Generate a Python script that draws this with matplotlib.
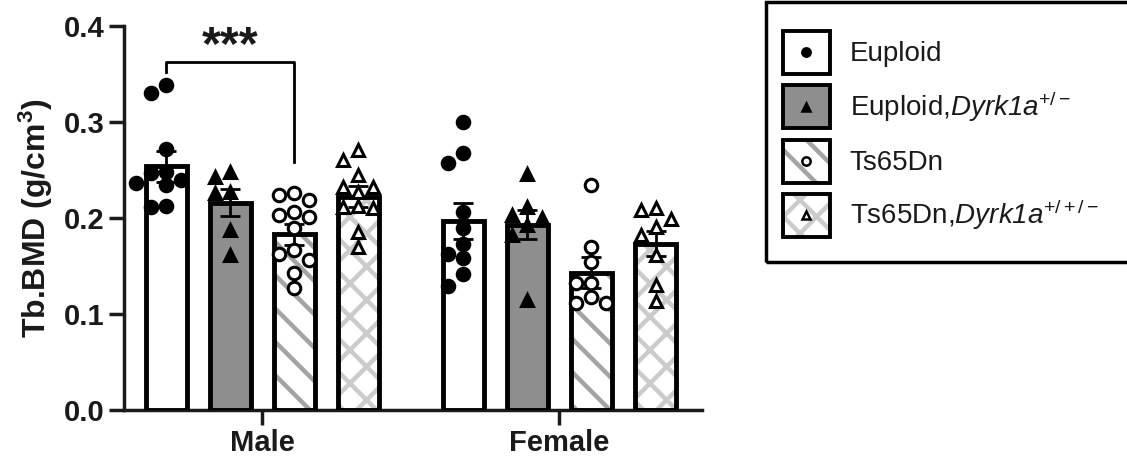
import matplotlib
matplotlib.use('Agg')
import matplotlib.pyplot as plt
import numpy as np
from matplotlib.patches import Rectangle
from matplotlib.lines import Line2D

# ---------------- data ----------------
groups = ['Male', 'Female']
genotypes = ['Euploid', 'Euploid,Dyrk1a+/-', 'Ts65Dn', 'Ts65Dn,Dyrk1a+/+/-']
legend_labels = ['Euploid',
                 'Euploid,' + r'$\mathsf{Dyrk1a}^{+/-}$',
                 'Ts65Dn',
                 'Ts65Dn,' + r'$\mathsf{Dyrk1a}^{+/+/-}$']

means_male = [0.254, 0.216, 0.183, 0.222]
sem_male = [0.016, 0.014, 0.011, 0.011]
means_female = [0.197, 0.193, 0.143, 0.173]
sem_female = [0.019, 0.015, 0.016, 0.013]

pts_male_euploid = [0.339, 0.330, 0.272, 0.248, 0.247, 0.240, 0.236, 0.234, 0.212, 0.211]
pts_male_dyrk = [0.243, 0.248, 0.226, 0.227, 0.1875, 0.161]
pts_male_ts = [0.224, 0.219, 0.226, 0.203, 0.201, 0.206, 0.190, 0.167, 0.163, 0.156, 0.143, 0.127]
pts_male_tsdyrk = [0.271, 0.260, 0.245, 0.232, 0.232, 0.227, 0.211, 0.212, 0.210, 0.185, 0.170]

pts_female_euploid = [0.300, 0.257, 0.268, 0.206, 0.190, 0.173, 0.158, 0.1625, 0.142, 0.129]
pts_female_dyrk = [0.246, 0.211, 0.200, 0.203, 0.193, 0.182, 0.115]
pts_female_ts = [0.234, 0.170, 0.154, 0.132, 0.132, 0.118, 0.111, 0.111]
pts_female_tsdyrk = [0.210, 0.208, 0.199, 0.191, 0.182, 0.161, 0.130, 0.1135]

y_ticks = [0.0, 0.1, 0.2, 0.3, 0.4]
y_ticklabels = ['0.0', '0.1', '0.2', '0.3', '0.4']

means = [means_male, means_female]
sems = [sem_male, sem_female]
points = [[pts_male_euploid, pts_male_dyrk, pts_male_ts, pts_male_tsdyrk],
          [pts_female_euploid, pts_female_dyrk, pts_female_ts, pts_female_tsdyrk]]

# ---------------- style ----------------
plt.rcParams['font.family'] = ['Liberation Sans', 'DejaVu Sans']
plt.rcParams['mathtext.fontset'] = 'custom'
plt.rcParams['mathtext.rm'] = 'Liberation Sans'
plt.rcParams['mathtext.it'] = 'Liberation Sans:italic'
plt.rcParams['mathtext.sf'] = 'Liberation Sans:italic'
plt.rcParams['mathtext.bf'] = 'Liberation Sans:bold'
plt.rcParams['hatch.linewidth'] = 3.2

TXT = '#1a1a1a'

styles = [
    dict(face='white', hatch=None, hcol='white', marker='o', mfc='black', ms=9),
    dict(face='#8e8e8e', hatch=None, hcol='#8e8e8e', marker='^', mfc='black', ms=9),
    dict(face='white', hatch='\\', hcol='#a4a4a4', marker='o', mfc='white', ms=9),
    dict(face='white', hatch='x', hcol='#cbcbcb', marker='^', mfc='white', ms=9),
]

fig = plt.figure(figsize=(11.27, 4.61), dpi=100)
ax = fig.add_axes([0.110, 0.1106, 0.513, 0.833])

spacing = 0.2155
width = 0.138
XPX = 297.0   # px per x unit
YPX = 960.0   # px per y unit


def swarm_offsets(vals, step_px=15, min_px=12.5):
    vals = np.asarray(vals)
    order = np.argsort(-vals)
    placed = []
    offs = np.zeros(len(vals))
    for i in order:
        y = vals[i] * YPX
        for k in [0, -1, 1, -2, 2, -3, 3]:
            xo = k * step_px
            if all((xo - px) ** 2 + (y - py) ** 2 >= min_px ** 2 for px, py in placed):
                break
        placed.append((xo, y))
        offs[i] = xo / XPX
    return offs


centers = {}
for g in range(len(groups)):
    for k in range(len(genotypes)):
        st = styles[k]
        x = g + (k - 1.5) * spacing
        centers[(g, k)] = x
        m = means[g][k]
        ax.bar(x, m, width=width, color=st['face'], edgecolor=st['hcol'],
               hatch=st['hatch'], linewidth=0, zorder=2)
        ax.bar(x, m, width=width, fill=False, edgecolor='black',
               linewidth=3.5, zorder=3)
        ax.errorbar(x, m, yerr=sems[g][k], fmt='none', ecolor='black',
                    elinewidth=2, capsize=7, capthick=2, zorder=4)
        vals = points[g][k]
        offs = swarm_offsets(vals)
        ax.plot(x + offs, vals, linestyle='none', marker=st['marker'],
                markersize=st['ms'], markerfacecolor=st['mfc'],
                markeredgecolor='black', markeredgewidth=2.2, zorder=5,
                clip_on=False)

# significance bracket
x0 = centers[(0, 0)]
x2 = centers[(0, 2)]
ax.plot([x0, x0, x2, x2], [0.352, 0.363, 0.363, 0.258], color='black',
        linewidth=2, clip_on=False, zorder=6)
ax.text((x0 + x2) / 2, 0.366, '***', ha='center', va='baseline',
        fontsize=35, fontweight='bold', color=TXT)

# axes
ax.set_xlim(-0.465, 1.48)
ax.set_ylim(0, 0.4)
ax.set_yticks(y_ticks)
ax.set_yticklabels(y_ticklabels, fontsize=21, fontweight='bold')
ax.set_xticks([0, 1])
ax.set_xticklabels(groups, fontsize=21, fontweight='bold')
ax.tick_params(axis='both', length=11, width=2.5, pad=3, colors=TXT)
for s in ['top', 'right']:
    ax.spines[s].set_visible(False)
for s in ['left', 'bottom']:
    ax.spines[s].set_linewidth(2.5)
    ax.spines[s].set_color(TXT)
ax.set_ylabel(r'Tb.BMD (g/cm$^{\mathbf{3}}$)', fontsize=23, fontweight='bold',
              labelpad=6, color=TXT)


# legend
class StyleKey:
    def __init__(self, st):
        self.st = st


class BoxMarkerHandler:
    def legend_artist(self, legend, orig_handle, fontsize, handlebox):
        st = orig_handle.st
        x0, y0 = -handlebox.xdescent, -handlebox.ydescent
        w, h = handlebox.width, handlebox.height
        tr = handlebox.get_transform()
        fill = Rectangle((x0, y0), w, h, facecolor=st['face'], edgecolor=st['hcol'],
                         hatch=st['hatch'], linewidth=0, transform=tr)
        border = Rectangle((x0, y0), w, h, fill=False, edgecolor='black',
                           linewidth=2.8, transform=tr)
        mk = Line2D([x0 + w / 2], [y0 + h / 2], linestyle='none', marker=st['marker'],
                    markersize=6, markerfacecolor=st['mfc'], markeredgecolor='black',
                    markeredgewidth=1.8, transform=tr)
        handlebox.add_artist(fill)
        handlebox.add_artist(border)
        handlebox.add_artist(mk)
        return border


keys = [StyleKey(st) for st in styles]
leg = fig.legend(keys, legend_labels, loc='upper left',
                 bbox_to_anchor=(783 / 1127, 1 - 31 / 461),
                 handler_map={StyleKey: BoxMarkerHandler()},
                 frameon=False, fontsize=20, handlelength=1.68, handleheight=2.0,
                 handletextpad=0.72, labelspacing=0.41, borderpad=0,
                 borderaxespad=0)
for t in leg.get_texts():
    t.set_color(TXT)

# legend frame (extends past the right edge as in the original)
fig.patches.append(Rectangle((766 / 1127, 1 - 262 / 461), (1150 - 766) / 1127, 260 / 461,
                             transform=fig.transFigure, fill=False, edgecolor='black',
                             linewidth=2.5, clip_on=False))

fig.savefig('out.png', dpi=100)
